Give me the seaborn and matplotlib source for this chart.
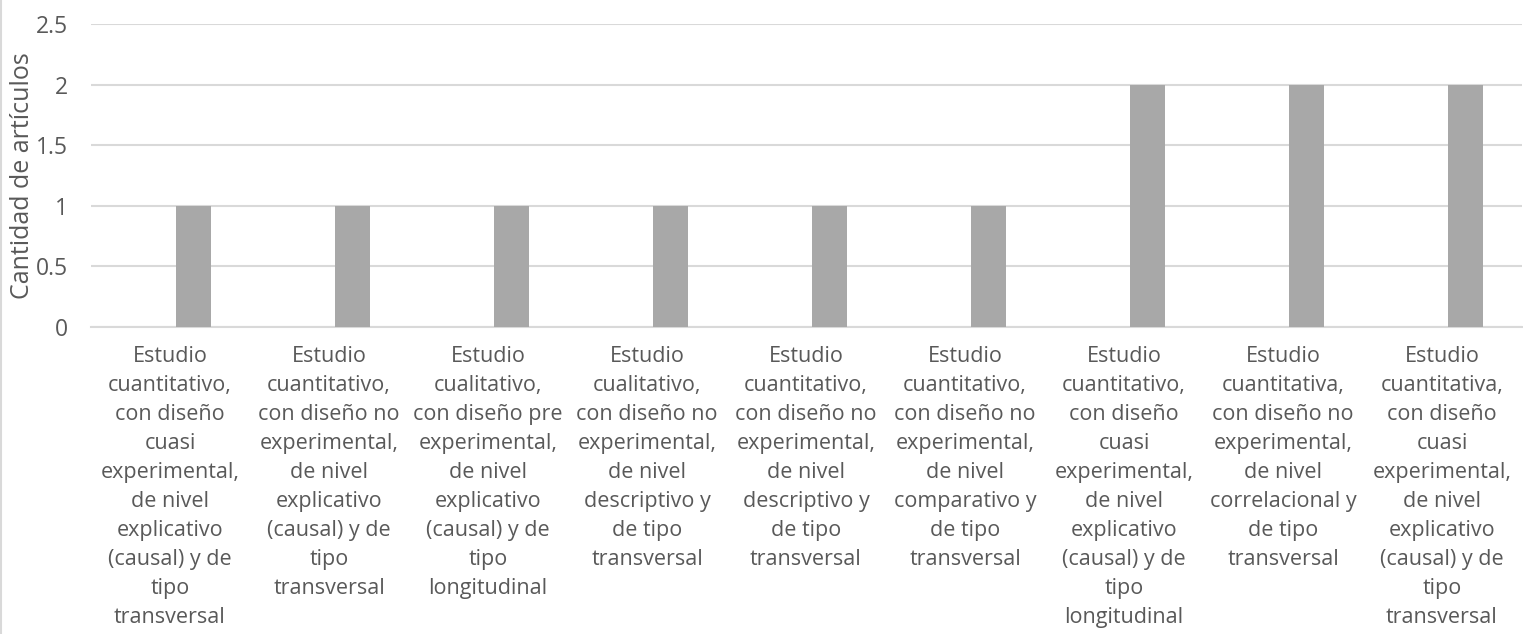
import matplotlib
matplotlib.use("Agg")
import matplotlib.pyplot as plt
import seaborn as sns
import pandas as pd
from matplotlib.lines import Line2D

categorias = [
    "Estudio\ncuantitativo,\ncon diseño\ncuasi\nexperimental,\nde nivel\nexplicativo\n(causal) y de\ntipo\ntransversal",
    "Estudio\ncuantitativo,\ncon diseño no\nexperimental,\nde nivel\nexplicativo\n(causal) y de\ntipo\ntransversal",
    "Estudio\ncualitativo,\ncon diseño pre\nexperimental,\nde nivel\nexplicativo\n(causal) y de\ntipo\nlongitudinal",
    "Estudio\ncualitativo,\ncon diseño no\nexperimental,\nde nivel\ndescriptivo y\nde tipo\ntransversal",
    "Estudio\ncuantitativo,\ncon diseño no\nexperimental,\nde nivel\ndescriptivo y\nde tipo\ntransversal",
    "Estudio\ncuantitativo,\ncon diseño no\nexperimental,\nde nivel\ncomparativo y\nde tipo\ntransversal",
    "Estudio\ncuantitativo,\ncon diseño\ncuasi\nexperimental,\nde nivel\nexplicativo\n(causal) y de\ntipo\nlongitudinal",
    "Estudio\ncuantitativa,\ncon diseño no\nexperimental,\nde nivel\ncorrelacional y\nde tipo\ntransversal",
    "Estudio\ncuantitativa,\ncon diseño\ncuasi\nexperimental,\nde nivel\nexplicativo\n(causal) y de\ntipo\ntransversal",
]
cantidades = [1, 1, 1, 1, 1, 1, 2, 2, 2]
y_ticks = [0, 0.5, 1, 1.5, 2, 2.5]
y_tick_labels = ["0", "0.5", "1", "1.5", "2", "2.5"]

sns.set_theme(style="white")
plt.rcParams["font.family"] = ["Open Sans", "DejaVu Sans"]

text_color = "#595959"
grid_color = "#D9D9D9"
bar_color = "#A8A8A8"

fig = plt.figure(figsize=(15.23, 6.34), dpi=100)
ax = fig.add_axes([90.5 / 1523, 1 - 327 / 634, 1431 / 1523, 303 / 634])

df = pd.DataFrame({"cat": categorias, "val": cantidades})
sns.barplot(data=df, x="cat", y="val", color=bar_color, saturation=1,
            width=35 / 159, ax=ax, zorder=3)
for p in ax.patches:
    p.set_x(p.get_x() + 23 / 159)
    p.set_edgecolor("none")

ax.set_xlim(-0.5, len(categorias) - 0.5)
ax.set_ylim(0, 2.5)
ax.set_yticks(y_ticks)
ax.set_yticklabels(y_tick_labels)
ax.yaxis.grid(True, color=grid_color, linewidth=1.5, zorder=0)
for s in ["top", "right", "left"]:
    ax.spines[s].set_visible(False)
ax.spines["bottom"].set_color(grid_color)
ax.spines["bottom"].set_linewidth(1.5)

ax.tick_params(axis="y", length=0, pad=16, labelsize=16.5, labelcolor=text_color)
ax.tick_params(axis="x", length=0, pad=14, labelsize=15.5, labelcolor=text_color)
for t in ax.get_xticklabels():
    t.set_linespacing(1.5)
    t.set_ha("center")

ax.set_xlabel("")
ax.set_ylabel("Cantidad de artículos", fontsize=18, color=text_color, labelpad=1)

fig.add_artist(Line2D([0.0007, 0.0007], [0, 1], transform=fig.transFigure,
                      color=grid_color, linewidth=1.5))

fig.savefig("out.png", dpi=100, facecolor="white")
